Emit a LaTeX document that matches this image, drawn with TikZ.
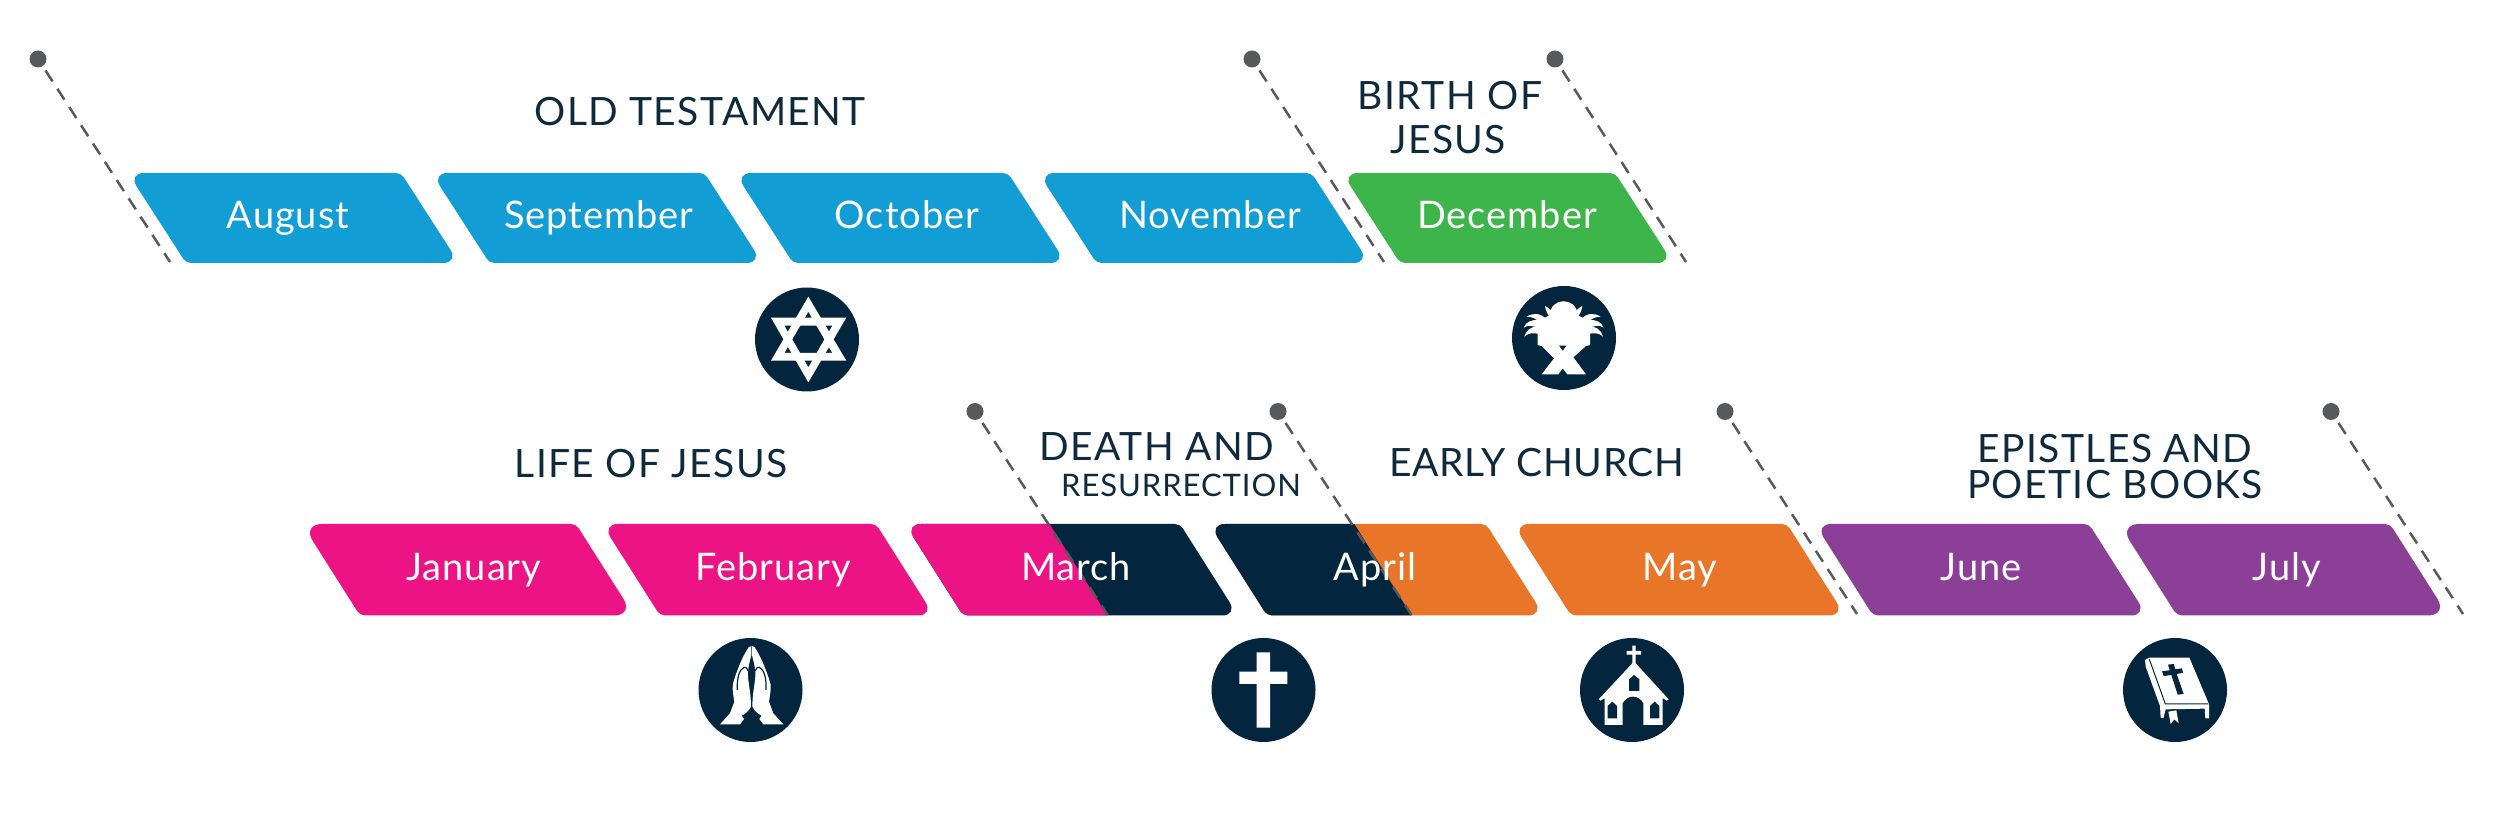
\documentclass[tikz,border=0pt]{standalone}
\usepackage{fontspec}
\setmainfont{Lato}
\definecolor{cblue}{HTML}{129DD4}
\definecolor{cgreen}{HTML}{3DB54A}
\definecolor{cpink}{HTML}{EC1384}
\definecolor{cnavy}{HTML}{04253E}
\definecolor{corange}{HTML}{E97628}
\definecolor{cpurple}{HTML}{8B3F96}
\definecolor{cdash}{HTML}{58595B}
\definecolor{chead}{HTML}{0E2A3C}
\newcommand\pgpath[5]{% radius of the acute corners, TL, TR, top, bottom
  ({(#2+#3)/2},#4) [rounded corners=2.5pt] -- (#3,#4) [rounded corners=#1] -- ({#3+58},#5)
  [rounded corners=2.5pt] -- ({#2+58},#5) [rounded corners=#1] -- (#2,#4) [rounded corners=2.5pt] -- cycle}
\newcommand\monthshape[6]{\fill[#2] \pgpath{#1}{#3}{#4}{#5}{#6};}
\tikzset{
  month/.style={anchor=base,text=white,font=\fontsize{19}{21}\selectfont\addfontfeature{LetterSpace=2.5}},
  head/.style={anchor=base,text=chead,font=\fontsize{19.5}{22}\selectfont\addfontfeature{LetterSpace=3.6}},
  subhead/.style={anchor=base,text=chead,font=\fontsize{15.5}{20}\selectfont\addfontfeature{LetterSpace=3}},
  dot/.style={circle,fill=cdash,inner sep=0pt,minimum size=8.5pt,outer sep=2.6pt},
  guide/.style={draw=cdash,line width=1.25pt,dash pattern=on 6.5pt off 4.4pt},
  iconbg/.style={circle,fill=cnavy,inner sep=0pt,minimum size=52pt},
  iconwhite/.style={fill=white,draw=none},
  icondark/.style={fill=cnavy,draw=none}
}
\begin{document}
\begin{tikzpicture}[x=0.5pt,y=-0.5pt]
\useasboundingbox (0,0) rectangle (2500,833);
% top row
\monthshape{8pt}{cblue}{128}{401}{173}{263}
\monthshape{8pt}{cblue}{431.5}{704.5}{173}{263}
\monthshape{8pt}{cblue}{735}{1008}{173}{263}
\monthshape{8pt}{cblue}{1038.5}{1311.5}{173}{263}
\monthshape{8pt}{cgreen}{1342}{1615}{173}{263}
% bottom row
\monthshape{10pt}{cpink}{302}{576}{524}{615.5}
\monthshape{8pt}{cpink}{602}{876}{524}{615.5}
\begin{scope}
\clip \pgpath{8pt}{905}{1180}{524}{615.5};
\fill[cnavy] (890,510) rectangle (1260,630);
\fill[cpink] (890,510) -- (1040.6,510) -- (1116.6,630) -- (890,630) -- cycle;
\end{scope}
\begin{scope}
\clip \pgpath{8pt}{1209}{1486}{524}{615.5};
\fill[corange] (1190,510) rectangle (1560,630);
\fill[cnavy] (1190,510) -- (1345.6,510) -- (1420.6,630) -- (1190,630) -- cycle;
\end{scope}
\monthshape{8pt}{corange}{1513}{1787}{524}{615.5}
\monthshape{8pt}{cpurple}{1815}{2089}{524}{615.5}
\monthshape{10pt}{cpurple}{2119}{2390}{524}{615.5}
% guides
\foreach \n/\x/\y/\ex/\ey in {a/38/59/170/262,b/1252/59/1384/262,c/1555/59/1686/262,d/975/411.5/1107.6/615,e/1278/411.5/1411.6/615,f/1725/411.5/1857/614,g/2331/411.5/2463/614}{
  \node[dot] (dot\n) at (\x,\y) {};
  \coordinate (end\n) at (\ex,\ey);
  \draw[guide] (dot\n) -- (end\n);
}
% month labels
\node[month] (aug) at (288,229) {August};
\node[month] (sep) at (599,229) {September};
\node[month] (oct) at (907,229) {October};
\node[month] (nov) at (1210,229) {November};
\node[month] (dec) at (1507,229) {December};
\node[month] (jan) at (474,581) {January};
\node[month] (feb) at (773,581) {February};
\node[month] (mar) at (1076,581) {March};
\node[month] (apr) at (1375,581) {April};
\node[month] (may) at (1680,581) {May};
\node[month] (jun) at (1981,581) {June};
\node[month] (jul) at (2287,581) {July};
% headings
\node[head] (h1) at (700,125.7) {OLD TESTAMENT};
\node[head] (h2a) at (1450,110) {BIRTH OF};
\node[head] (h2b) at (1448,154) {JESUS};
\node[head] (h3) at (651,478) {LIFE OF JESUS};
\node[head] (h4a) at (1157,460.7) {DEATH AND};
\node[subhead] (h4b) at (1181,497) {RESURRECTION};
\node[head] (h5) at (1537,477) {\addfontfeature{LetterSpace=1.5}EARLY CHURCH};
\node[head] (h6a) at (2115,462.7) {EPISTLES AND};
\node[head] (h6b) at (2115,499) {POETIC BOOKS};
% icon discs
\node[iconbg] (star) at (807,339.5) {};
\node[iconbg] (crib) at (1564,338) {};
\node[iconbg] (pray) at (750.5,690) {};
\node[iconbg] (crossdisc) at (1263.5,690) {};
\node[iconbg] (church) at (1632,690) {};
\node[iconbg] (bible) at (2175,690) {};
% star
\begin{scope}[shift={(730,270)},scale=1/3]
\fill[iconwhite,even odd rule] (235,80) -- (349,272) -- (123,272) -- cycle (235,125) -- (163,249) -- (307,249) -- cycle;
\fill[iconwhite,even odd rule] (235,337) -- (349,143) -- (123,143) -- cycle (235,292) -- (163,167) -- (307,167) -- cycle;
\end{scope}
% crib
\begin{scope}[shift={(1490,280)},scale=1/3]
\fill[iconwhite] (180,105) .. controls (180,50) and (262,50) .. (262,105) -- (300,125) -- (300,195) -- (288,198) -- (250,232) -- (288,283) -- (232,283) -- (218,265) -- (205,283) -- (155,283) -- (192,235) -- (155,198) -- (143,195) -- (143,125) -- cycle;
\fill[icondark] (207,197) -- (229,197) -- (218,212) -- cycle;
\foreach \m in {0,1}{
  \begin{scope}[xshift={\m*221pt},xscale={1-2*\m}]
  \fill[iconwhite] (150,128) .. controls (138,115) and (125,110) .. (110,110) .. controls (130,98) and (150,98) .. (170,118) -- cycle;
  \fill[iconwhite] (150,120) .. controls (125,118) and (108,125) .. (101,143) .. controls (115,133) and (130,138) .. (150,145) -- cycle;
  \fill[iconwhite] (148,138) .. controls (125,138) and (108,150) .. (103,170) .. controls (115,158) and (130,158) .. (148,162) -- cycle;
  \fill[iconwhite] (180,112) .. controls (172,102) and (167,92) .. (165,78) .. controls (177,84) and (186,92) .. (190,104) -- cycle;
  \end{scope}
}
\end{scope}
% praying hands
\begin{scope}[shift={(680,620)},scale=1/3]
\foreach \m in {0,1}{
  \begin{scope}[xshift={\m*215pt},xscale={1-2*\m}]
  \fill[iconwhite] (120,313) -- (150,280) -- (163,245) .. controls (158,215) and (155,195) .. (162,180) .. controls (175,140) and (190,105) .. (206,82) -- (214,78) -- (214,105) .. controls (208,130) and (202,150) .. (204,170) .. controls (206,195) and (213,225) .. (213,260) .. controls (205,275) and (195,282) .. (185,287) -- (192,297) -- (180,313) -- cycle;
  \draw[cnavy,line width=0.6pt] (172,210) .. controls (170,175) and (178,148) .. (192,142) .. controls (198,140) and (202,145) .. (204,152);
  \end{scope}
}
\end{scope}
% cross
\begin{scope}[shift={(1180,620)},scale=1/3]
\fill[iconwhite] (230,97) -- (270,97) -- (270,155) -- (322,155) -- (322,192) -- (270,192) -- (270,323) -- (230,323) -- (230,192) -- (178,192) -- (178,155) -- (230,155) -- cycle;
\end{scope}
% church
\begin{scope}[shift={(1560,620)},scale=1/3]
\fill[iconwhite] (217,77) -- (227,77) -- (227,93) -- (243,93) -- (243,104) -- (227,104) -- (227,130) -- (326,238) -- (320,242) -- (308,234) -- (308,315) -- (134,315) -- (134,234) -- (122,242) -- (116,238) -- (217,130) -- (217,104) -- (200,104) -- (200,93) -- (217,93) -- cycle;
\fill[icondark] (207,213) -- (207,178) -- (222,165) -- (238,178) -- (238,213) -- cycle;
\fill[icondark] (143,295) -- (143,258) -- (157,245) -- (171,258) -- (171,295) -- cycle;
\fill[icondark] (270,295) -- (270,258) -- (284,245) -- (298,258) -- (298,295) -- cycle;
\fill[icondark] (188,316) -- (188,250) .. controls (195,237) and (207,230) .. (219,230) .. controls (231,230) and (243,237) .. (250,250) -- (250,316) -- cycle;
\end{scope}
% bible
\begin{scope}[shift={(2100,620)},scale=1/3]
\fill[iconwhite] (135,120) -- (147,113) -- (268,113) -- (327,253) -- (327,295) -- (316,295) -- (314,266) -- (197,268) -- (190,295) -- (182,293) -- (180,258) -- (137,140) -- cycle;
\draw[cnavy,line width=0.5pt] (148,118) -- (196,252) -- (325,252);
\fill[iconwhite] (205,275) -- (229,271) -- (236,310) -- (223,298) -- (212,312) -- cycle;
\fill[icondark] (204,134) -- (221,132) -- (226,148) -- (246,145) -- (249,158) -- (230,162) -- (251,222) -- (233,224) -- (214,165) -- (191,168) -- (186,154) -- (209,151) -- cycle;
\end{scope}
\end{tikzpicture}
\end{document}
